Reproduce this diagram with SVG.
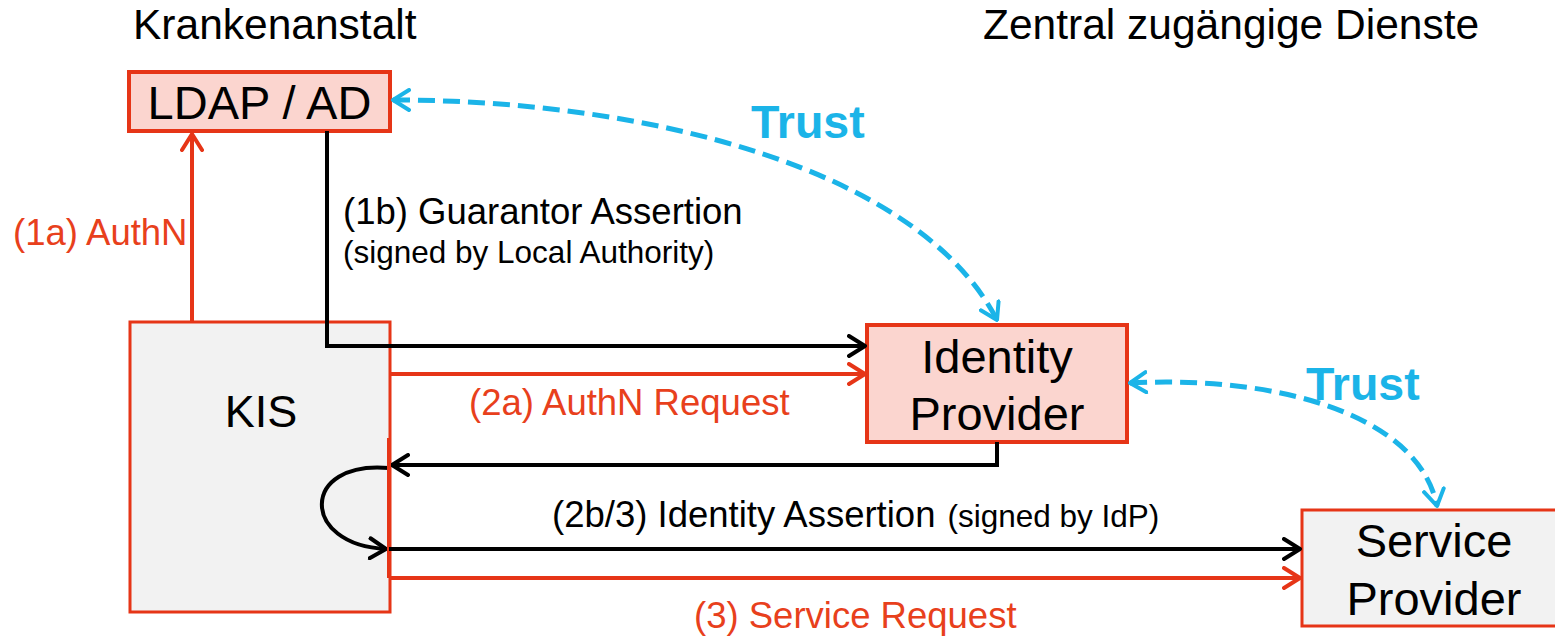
<svg xmlns="http://www.w3.org/2000/svg" width="1555" height="639" viewBox="0 0 1555 639">
  <style>
    text { font-family: "Liberation Sans", Arial, sans-serif; }
    .title { font-size: 42.5px; fill: #000; }
    .node-label { font-size: 47px; fill: #000; text-anchor: middle; }
    .lbl { font-size: 36.5px; }
    .lbl-small { font-size: 31.5px; }
    .red-t { fill: #e8401c; }
    .blk-t { fill: #000; }
    .trust { font-size: 46.5px; font-weight: bold; fill: #1bb4e8; }
    .box-pink { fill: #fbd5cf; stroke: #e63517; stroke-width: 4; }
    .box-grey { fill: #f2f2f2; stroke: #e63517; stroke-width: 3; }
    .c-red { fill: none; stroke: #e63517; stroke-width: 4; }
    .c-blk { fill: none; stroke: #000; stroke-width: 4; }
    .c-trust { fill: none; stroke: #1bb4e8; stroke-width: 5; stroke-dasharray: 17 8; }
  </style>
  <defs>
    <marker id="arrow-red" viewBox="0 0 20 24" refX="18" refY="12" markerWidth="20" markerHeight="24" markerUnits="userSpaceOnUse" orient="auto-start-reverse">
      <path d="M2,2 L18,12 L2,22" fill="none" stroke="#e63517" stroke-width="4" stroke-linecap="round" stroke-linejoin="round"/>
    </marker>
    <marker id="arrow-blk" viewBox="0 0 20 24" refX="18" refY="12" markerWidth="20" markerHeight="24" markerUnits="userSpaceOnUse" orient="auto-start-reverse">
      <path d="M2,2 L18,12 L2,22" fill="none" stroke="#000" stroke-width="4" stroke-linecap="round" stroke-linejoin="round"/>
    </marker>
    <marker id="arrow-blue" viewBox="0 0 20 24" refX="18" refY="12" markerWidth="20" markerHeight="24" markerUnits="userSpaceOnUse" orient="auto-start-reverse">
      <path d="M2,2 L18,12 L2,22" fill="none" stroke="#1bb4e8" stroke-width="4" stroke-linecap="round" stroke-linejoin="round"/>
    </marker>
  </defs>

  <rect width="1555" height="639" fill="#fff"/>

  <!-- area headings -->
  <text class="title" x="133" y="39">Krankenanstalt</text>
  <text class="title" x="983" y="39">Zentral zugängige Dienste</text>

  <!-- nodes -->
  <g id="node-ldap">
    <rect class="box-pink" x="129" y="72" width="261" height="59"/>
    <text class="node-label" x="259.5" y="119">LDAP / AD</text>
  </g>
  <g id="node-kis">
    <rect class="box-grey" x="130" y="322" width="260" height="290"/>
    <text class="node-label" x="261" y="427" style="font-size:45px">KIS</text>
  </g>
  <g id="node-idp">
    <rect class="box-pink" x="867" y="325" width="260" height="117"/>
    <text class="node-label" x="997" y="373">Identity</text>
    <text class="node-label" x="997" y="430">Provider</text>
  </g>
  <g id="node-sp">
    <rect class="box-grey" x="1302" y="510" width="270" height="116"/>
    <text class="node-label" x="1434" y="557">Service</text>
    <text class="node-label" x="1434" y="615">Provider</text>
  </g>

  <!-- connectors -->
  <g id="connectors">
    <!-- (1a) AuthN: KIS -> LDAP -->
    <path class="c-red" d="M192,322 L192,134" marker-end="url(#arrow-red)"/>
    <!-- (1b) Guarantor Assertion: LDAP -> IdP -->
    <path class="c-blk" d="M327,131 L327,346 L865,346" marker-end="url(#arrow-blk)"/>
    <!-- (2a) AuthN Request: KIS -> IdP -->
    <path class="c-red" d="M390,374 L865,374" marker-end="url(#arrow-red)"/>
    <!-- IdP response back to KIS -->
    <path class="c-blk" d="M997,442 L997,465 L392,465" marker-end="url(#arrow-blk)"/>
    <!-- internal hand-over inside KIS -->
    <path class="c-blk" d="M389,468 C300,460 300,545 386,549" marker-end="url(#arrow-blk)"/>
    <!-- red bus on KIS edge -->
    <path class="c-red" d="M389,438 L389,578"/>
    <!-- (2b/3) Identity Assertion: KIS -> SP -->
    <path class="c-blk" d="M389,549 L1300,549" marker-end="url(#arrow-blk)"/>
    <!-- (3) Service Request: KIS -> SP -->
    <path class="c-red" d="M389,578 L1300,578" marker-end="url(#arrow-red)"/>
    <!-- trust relations -->
    <path class="c-trust" d="M393,100 C650,100 920,170 997,320" marker-start="url(#arrow-blue)" marker-end="url(#arrow-blue)"/>
    <path class="c-trust" d="M1130,383 C1290,375 1420,420 1437,506" marker-start="url(#arrow-blue)" marker-end="url(#arrow-blue)"/>
  </g>

  <!-- connector labels -->
  <g id="labels">
    <text class="lbl red-t" x="13" y="245">(1a) AuthN</text>
    <text class="lbl blk-t" x="343" y="224">(1b) Guarantor Assertion</text>
    <text class="lbl-small blk-t" x="343" y="263">(signed by Local Authority)</text>
    <text class="lbl red-t" x="469" y="415">(2a) AuthN Request</text>
    <text class="blk-t" x="552" y="527"><tspan class="lbl">(2b/3) Identity Assertion</tspan><tspan class="lbl-small" dx="12">(signed by IdP)</tspan></text>
    <text class="lbl red-t" x="694" y="628">(3) Service Request</text>
    <text class="trust" x="751" y="138">Trust</text>
    <text class="trust" x="1306" y="400">Trust</text>
  </g>
</svg>
